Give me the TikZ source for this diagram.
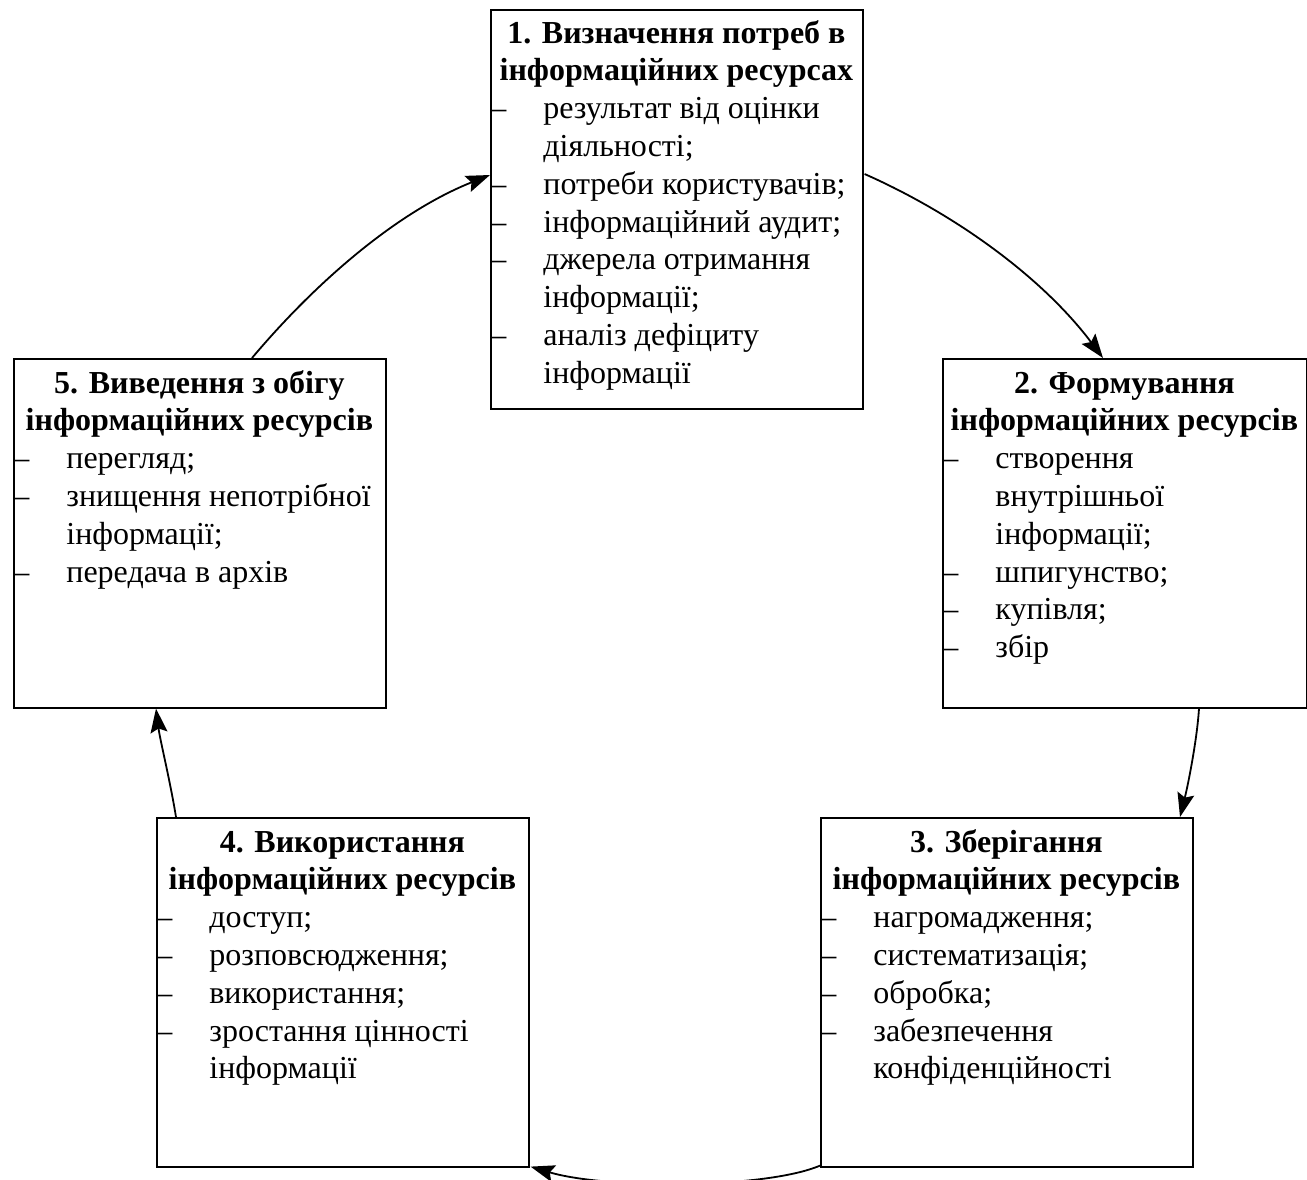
\documentclass[tikz,border=0pt]{standalone}
\usepackage{fontspec}
\setmainfont{Liberation Serif}
\usetikzlibrary{calc,arrows.meta}
\newcommand\itm[1]{\makebox[26.5pt][l]{\makebox[9.5pt][s]{–}}#1\par}
\newcommand\cnt[1]{\hspace*{26.5pt}#1\par}
\newcommand\boxtext[3]{\parbox[t]{#1}{\fontsize{16}{18.9}\selectfont\centering\bfseries #2\par\raggedright\mdseries #3}}
\tikzset{
  stagebox/.style={draw, line width=0.8pt, inner sep=0pt, anchor=north west, minimum width=186pt, minimum height=174.5pt},
  boxlabel/.style={anchor=base west, inner sep=0pt},
  flow/.style={line width=0.9pt, -{Stealth[length=12pt,width=8.5pt,inset=2pt]}}
}
\begin{document}
\begin{tikzpicture}[x=0.5pt,y=-0.5pt]
\useasboundingbox (0,0) rectangle (1307,1179);
% boxes
\node[stagebox, minimum height=199.5pt] (b1) at (490,9) {};
\node[stagebox, minimum width=182pt] (b2) at (942,358) {};
\node[stagebox] (b3) at (820,817) {};
\node[stagebox] (b4) at (156,817) {};
\node[stagebox] (b5) at (13,358) {};
% texts
\node[boxlabel] (t1) at ($(b1.north west)+(0,34)$) {\boxtext{186pt}{1. Визначення потреб в\\інформаційних ресурсах}{%
\itm{результат від оцінки}\cnt{діяльності;}\itm{потреби користувачів;}\itm{інформаційний аудит;}\itm{джерела отримання}\cnt{інформації;}\itm{аналіз дефіциту}\cnt{інформації}}};
\node[boxlabel] (t2) at ($(b2.north west)+(0,35)$) {\boxtext{182pt}{2. Формування\\інформаційних ресурсів}{%
\itm{створення}\cnt{внутрішньої}\cnt{інформації;}\itm{шпигунство;}\itm{купівля;}\itm{збір}}};
\node[boxlabel] (t3) at ($(b3.north west)+(0,35)$) {\boxtext{186pt}{3. Зберігання\\інформаційних ресурсів}{%
\itm{нагромадження;}\itm{систематизація;}\itm{обробка;}\itm{забезпечення}\cnt{конфіденційності}}};
\node[boxlabel] (t4) at ($(b4.north west)+(0,35)$) {\boxtext{186pt}{4. Використання\\інформаційних ресурсів}{%
\itm{доступ;}\itm{розповсюдження;}\itm{використання;}\itm{зростання цінності}\cnt{інформації}}};
\node[boxlabel] (t5) at ($(b5.north west)+(0,35)$) {\boxtext{186pt}{5. Виведення з обігу\\інформаційних ресурсів}{%
\itm{перегляд;}\itm{знищення непотрібної}\cnt{інформації;}\itm{передача в архів}}};
% connectors
\draw[flow] ($(b1.north east)+(1,165)$) .. controls (955,214) and (1042,277) .. ($(b2.north west)+(161,0)$);
\draw[flow] ($(b2.south west)+(257,0)$) .. controls (1197,740) and (1188,785) .. ($(b3.north west)+(360,0)$);
\draw[flow] ($(b3.south west)+(0,-2)$) .. controls (765,1189) and (605,1189) .. ($(b4.south east)+(1,-1)$);
\draw[flow] ($(b4.north west)+(20,0)$) .. controls (170,780) and (160,740) .. ($(b5.south west)+(143,0)$);
\draw[flow] ($(b5.north west)+(239,0)$) .. controls (316,282) and (397,212) .. ($(b1.north west)+(0,166)$);
\end{tikzpicture}
\end{document}
